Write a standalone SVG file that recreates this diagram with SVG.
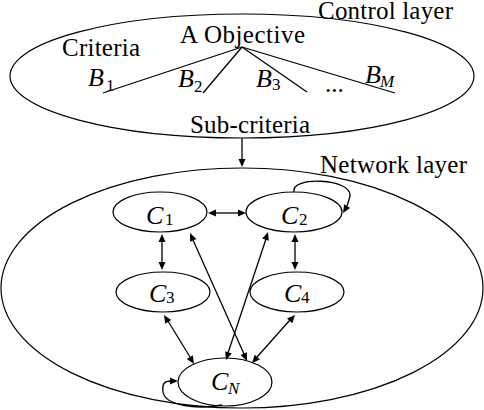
<svg xmlns="http://www.w3.org/2000/svg" width="484" height="410" viewBox="0 0 484 410">
<rect width="484" height="410" fill="#fff"/>
<g id="control-layer">
<ellipse cx="242" cy="76" rx="232" ry="62" fill="none" stroke="#000" stroke-width="1.2"/>
<text font-family="Liberation Serif, serif" font-size="25" x="318" y="19" textLength="135">Control layer</text>
<text font-family="Liberation Serif, serif" font-size="25" x="180" y="43" textLength="125">A Objective</text>
<text font-family="Liberation Serif, serif" font-size="25" x="62" y="56" textLength="78">Criteria</text>
<text font-family="Liberation Serif, serif" font-size="25" x="190" y="133" textLength="120">Sub-criteria</text>
<text font-family="Liberation Serif, serif" font-size="26" font-style="italic" x="88" y="86">B</text><text font-family="Liberation Serif, serif" font-size="17" x="106" y="91">1</text>
<text font-family="Liberation Serif, serif" font-size="26" font-style="italic" x="178" y="87">B</text><text font-family="Liberation Serif, serif" font-size="17" x="194" y="92">2</text>
<text font-family="Liberation Serif, serif" font-size="26" font-style="italic" x="256" y="87">B</text><text font-family="Liberation Serif, serif" font-size="17" x="272" y="90">3</text>
<text font-family="Liberation Serif, serif" font-size="25" x="325" y="92">...</text>
<text font-family="Liberation Serif, serif" font-size="26" font-style="italic" x="365" y="83">B</text><text font-family="Liberation Serif, serif" font-size="17" font-style="italic" x="380" y="87">M</text>
</g>
<g id="network-layer">
<ellipse cx="242" cy="288" rx="241" ry="120" fill="none" stroke="#000" stroke-width="1.2"/>
<text font-family="Liberation Serif, serif" font-size="25" x="320" y="173" textLength="147">Network layer</text>
</g>
<g id="C1"><ellipse cx="160" cy="212" rx="47" ry="20" fill="none" stroke="#000" stroke-width="1.2"/><text font-family="Liberation Serif, serif" font-size="26" font-style="italic" x="146" y="224">C</text><text font-family="Liberation Serif, serif" font-size="17" x="165" y="225">1</text></g>
<g id="C2"><ellipse cx="294" cy="212" rx="48" ry="20" fill="none" stroke="#000" stroke-width="1.2"/><text font-family="Liberation Serif, serif" font-size="26" font-style="italic" x="281" y="224">C</text><text font-family="Liberation Serif, serif" font-size="17" x="299" y="225">2</text></g>
<g id="C3"><ellipse cx="163" cy="292" rx="47" ry="20" fill="none" stroke="#000" stroke-width="1.2"/><text font-family="Liberation Serif, serif" font-size="26" font-style="italic" x="149" y="302">C</text><text font-family="Liberation Serif, serif" font-size="17" x="166" y="303">3</text></g>
<g id="C4"><ellipse cx="297" cy="292" rx="47" ry="20" fill="none" stroke="#000" stroke-width="1.2"/><text font-family="Liberation Serif, serif" font-size="26" font-style="italic" x="284" y="302">C</text><text font-family="Liberation Serif, serif" font-size="17" x="301" y="303">4</text></g>
<g id="CN"><ellipse cx="225" cy="382" rx="47" ry="24" fill="none" stroke="#000" stroke-width="1.2"/><text font-family="Liberation Serif, serif" font-size="26" font-style="italic" x="211" y="390">C</text><text font-family="Liberation Serif, serif" font-size="17" font-style="italic" x="228" y="394">N</text></g>
<g id="connectors">
<g fill="none" stroke="#000" stroke-width="1.3">
<line x1="242" y1="47" x2="103" y2="93"/>
<line x1="242" y1="47" x2="203" y2="93"/>
<line x1="242" y1="47" x2="307" y2="92"/>
<line x1="242" y1="47" x2="395" y2="93"/>
<line x1="242" y1="138" x2="242" y2="160"/>
<line x1="215" y1="213" x2="239" y2="213"/>
<line x1="162" y1="241" x2="162" y2="263"/>
<line x1="295" y1="241" x2="295" y2="263"/>
<line x1="193" y1="240" x2="244" y2="354"/>
<line x1="266" y1="239" x2="228" y2="353"/>
<line x1="168" y1="321" x2="190" y2="357"/>
<line x1="290" y1="320" x2="257" y2="357"/>
<path d="M294,192 C290,176 352,178 350,196 C349,200 348,203 347,206"/>
<path d="M222,405 C195,410 165,405 163,392 C162,384 164,381 171,381"/>
</g>
<g fill="#000" stroke="none">
<polygon points="242,167 238.5,159 245.5,159"/>
<polygon points="246,213 238,209.5 238,216.5"/>
<polygon points="208,213 216,209.5 216,216.5"/>
<polygon points="162,270 158.5,262 165.5,262"/>
<polygon points="162,234 158.5,242 165.5,242"/>
<polygon points="295,270 291.5,262 298.5,262"/>
<polygon points="295,234 291.5,242 298.5,242"/>
<polygon points="247,361 240.55,355.11 246.95,352.27"/>
<polygon points="190,233 190.05,241.73 196.45,238.89"/>
<polygon points="226,360 225.16,351.31 231.82,353.49"/>
<polygon points="268,232 262.18,238.51 268.84,240.69"/>
<polygon points="194,364 186.83,359.01 192.81,355.35"/>
<polygon points="164,315 165.19,323.65 171.17,319.99"/>
<polygon points="252,363 254.73,354.7 259.95,359.38"/>
<polygon points="295,315 287.05,318.62 292.27,323.3"/>
<polygon points="343,213 344.11,204.34 350.11,207.94"/>
<polygon points="178,381 170,377.5 170,384.5"/>
</g>
</g>
</svg>
